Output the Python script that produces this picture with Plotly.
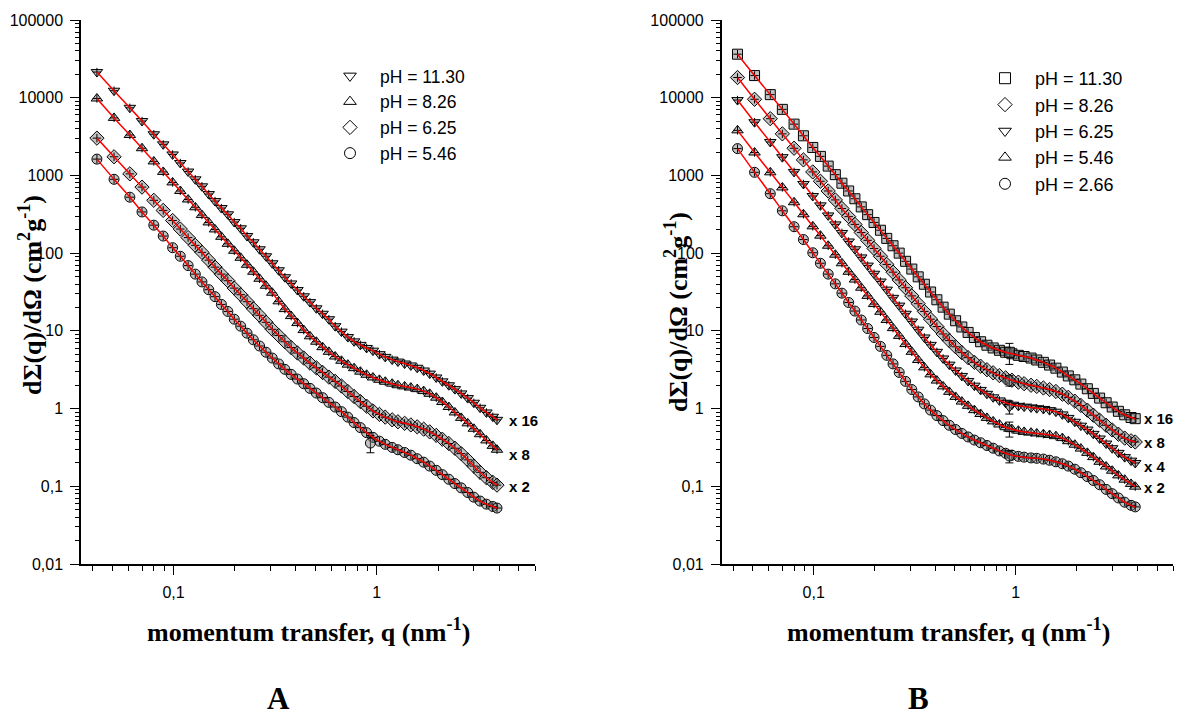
import plotly.graph_objects as go
import numpy as np

W, H = 1184, 718

# momentum transfer q (nm^-1) of the measured points (same grid in both panels)
q = [0.042, 0.051, 0.061, 0.070, 0.080, 0.089, 0.099, 0.108, 0.118, 0.128,
     0.138, 0.149, 0.160, 0.172, 0.185, 0.199, 0.214, 0.230, 0.247, 0.265,
     0.285, 0.306, 0.329, 0.353, 0.379, 0.407, 0.437, 0.469, 0.504, 0.541,
     0.581, 0.624, 0.670, 0.720, 0.773, 0.830, 0.891, 0.957, 1.03, 1.10,
     1.19, 1.27, 1.37, 1.47, 1.58, 1.70, 1.82, 1.96, 2.10, 2.26,
     2.42, 2.60, 2.80, 3.00, 3.22, 3.46, 3.72, 3.90]

# log10 of dSigma/dOmega (cm^2 g^-1), scale factor already applied
# panel A
a_ph1130 = [4.33, 4.09, 3.87, 3.70, 3.53, 3.40, 3.27, 3.16, 3.05, 2.95,
            2.86, 2.76, 2.67, 2.58, 2.50, 2.40, 2.32, 2.22, 2.14, 2.05,
            1.96, 1.87, 1.78, 1.69, 1.61, 1.525, 1.445, 1.37, 1.29, 1.22,
            1.15, 1.06, 0.99, 0.92, 0.865, 0.82, 0.78, 0.745, 0.70, 0.665,
            0.63, 0.605, 0.58, 0.555, 0.525, 0.49, 0.45, 0.40, 0.35, 0.30,
            0.25, 0.195, 0.135, 0.075, 0.01, -0.05, -0.105, -0.145]
a_ph826 = [3.99, 3.74, 3.52, 3.35, 3.18, 3.045, 2.91, 2.80, 2.69, 2.59,
           2.49, 2.395, 2.305, 2.21, 2.12, 2.03, 1.94, 1.85, 1.76, 1.67,
           1.58, 1.49, 1.38, 1.28, 1.19, 1.10, 1.01, 0.93, 0.86, 0.79,
           0.73, 0.67, 0.615, 0.565, 0.52, 0.475, 0.435, 0.40, 0.37, 0.345,
           0.32, 0.30, 0.285, 0.27, 0.25, 0.225, 0.19, 0.14, 0.085, 0.02,
           -0.05, -0.12, -0.19, -0.26, -0.33, -0.41, -0.48, -0.53]
a_ph625 = [3.48, 3.24, 3.02, 2.85, 2.68, 2.55, 2.42, 2.31, 2.20, 2.10,
           2.01, 1.91, 1.82, 1.73, 1.645, 1.55, 1.465, 1.375, 1.285, 1.20,
           1.11, 1.02, 0.94, 0.86, 0.785, 0.715, 0.65, 0.585, 0.525, 0.465,
           0.405, 0.35, 0.29, 0.22, 0.155, 0.09, 0.03, -0.03, -0.075, -0.11,
           -0.145, -0.17, -0.19, -0.21, -0.235, -0.265, -0.30, -0.345, -0.395, -0.45,
           -0.51, -0.58, -0.66, -0.74, -0.82, -0.89, -0.95, -0.985]
a_ph546 = [3.21, 2.95, 2.72, 2.53, 2.36, 2.22, 2.07, 1.96, 1.84, 1.73,
           1.63, 1.53, 1.44, 1.34, 1.25, 1.15, 1.06, 0.97, 0.885, 0.805,
           0.725, 0.65, 0.575, 0.505, 0.44, 0.38, 0.32, 0.26, 0.20, 0.14,
           0.08, 0.02, -0.04, -0.11, -0.18, -0.245, -0.31, -0.37, -0.42, -0.46,
           -0.50, -0.53, -0.565, -0.60, -0.645, -0.69, -0.74, -0.795, -0.85, -0.91,
           -0.965, -1.02, -1.08, -1.14, -1.19, -1.23, -1.26, -1.28]

# panel B
b_ph1130 = [4.56, 4.285, 4.04, 3.85, 3.66, 3.51, 3.36, 3.245, 3.12, 3.01,
            2.90, 2.80, 2.70, 2.595, 2.495, 2.395, 2.295, 2.19, 2.095, 2.00,
            1.895, 1.795, 1.695, 1.60, 1.50, 1.40, 1.305, 1.215, 1.13, 1.05,
            0.98, 0.915, 0.86, 0.815, 0.78, 0.75, 0.725, 0.705, 0.685, 0.67,
            0.65, 0.625, 0.595, 0.56, 0.52, 0.47, 0.42, 0.37, 0.315, 0.255,
            0.195, 0.135, 0.075, 0.02, -0.035, -0.08, -0.115, -0.13]
b_ph826 = [4.26, 3.98, 3.73, 3.535, 3.35, 3.20, 3.045, 2.925, 2.80, 2.685,
           2.575, 2.47, 2.37, 2.265, 2.165, 2.06, 1.96, 1.855, 1.755, 1.655,
           1.555, 1.45, 1.35, 1.25, 1.15, 1.055, 0.96, 0.875, 0.795, 0.72,
           0.655, 0.595, 0.545, 0.50, 0.46, 0.425, 0.395, 0.365, 0.34, 0.32,
           0.30, 0.285, 0.265, 0.245, 0.22, 0.185, 0.145, 0.095, 0.04, -0.02,
           -0.085, -0.15, -0.215, -0.275, -0.33, -0.38, -0.415, -0.43]
b_ph625 = [3.97, 3.685, 3.43, 3.235, 3.045, 2.89, 2.735, 2.615, 2.485, 2.37,
           2.26, 2.15, 2.05, 1.945, 1.84, 1.735, 1.635, 1.53, 1.425, 1.325,
           1.22, 1.12, 1.015, 0.915, 0.82, 0.73, 0.645, 0.565, 0.49, 0.42,
           0.355, 0.295, 0.24, 0.19, 0.145, 0.105, 0.075, 0.05, 0.035, 0.025,
           0.015, 0.005, -0.005, -0.02, -0.04, -0.075, -0.12, -0.17, -0.22, -0.27,
           -0.325, -0.385, -0.45, -0.51, -0.57, -0.625, -0.67, -0.70]
b_ph546 = [3.58, 3.295, 3.04, 2.845, 2.655, 2.50, 2.345, 2.225, 2.095, 1.98,
           1.87, 1.76, 1.66, 1.555, 1.45, 1.345, 1.245, 1.14, 1.035, 0.935,
           0.83, 0.73, 0.625, 0.53, 0.44, 0.36, 0.285, 0.215, 0.15, 0.09,
           0.035, -0.02, -0.07, -0.12, -0.165, -0.205, -0.24, -0.265, -0.285, -0.30,
           -0.31, -0.32, -0.33, -0.34, -0.355, -0.38, -0.42, -0.465, -0.515, -0.57,
           -0.625, -0.685, -0.745, -0.80, -0.86, -0.915, -0.97, -1.005]
b_ph266 = [3.345, 3.04, 2.765, 2.545, 2.34, 2.175, 2.005, 1.87, 1.73, 1.605,
           1.485, 1.365, 1.255, 1.14, 1.03, 0.915, 0.80, 0.685, 0.575, 0.465,
           0.35, 0.245, 0.15, 0.06, -0.02, -0.09, -0.155, -0.215, -0.27, -0.32,
           -0.365, -0.405, -0.44, -0.475, -0.51, -0.545, -0.575, -0.60, -0.615, -0.625,
           -0.635, -0.64, -0.65, -0.665, -0.685, -0.71, -0.74, -0.78, -0.825, -0.875,
           -0.925, -0.98, -1.04, -1.095, -1.15, -1.205, -1.245, -1.265]

# points with visible error bars near q ~ 0.93
err_a_I = [0.36]
err_a_d = [0.09]
err_b_I = [5.3, 2.3, 1.05, 0.55, 0.245]
err_b_d = [1.6, 0.35, 0.2, 0.12, 0.045]

labels_a = ["pH = 11.30", "pH = 8.26", "pH = 6.25", "pH = 5.46"]
labels_b = ["pH = 11.30", "pH = 8.26", "pH = 6.25", "pH = 5.46", "pH = 2.66"]
factors_a = ["x 16", "x 8", "x 2"]
factors_b = ["x 16", "x 8", "x 4", "x 2"]

series_a = [a_ph1130, a_ph826, a_ph625, a_ph546]
series_b = [b_ph1130, b_ph826, b_ph625, b_ph546, b_ph266]
symbols_a = ["triangle-down", "triangle-up", "diamond", "circle"]
symbols_b = ["square", "diamond", "triangle-down", "triangle-up", "circle"]


def px(x):
    return x / W


def py(y):
    return 1 - y / H


fig = go.Figure()
MFILL = "rgba(120,120,120,0.45)"


def add_markers(logI, symbol, xa, ya):
    I = np.power(10.0, logI)
    size = 11 if symbol == "diamond" else 10
    fig.add_trace(go.Scatter(
        x=q, y=I, mode="markers", xaxis=xa, yaxis=ya, showlegend=False,
        marker=dict(symbol=symbol, size=size, color=MFILL,
                    line=dict(color="black", width=1)),
        hoverinfo="skip"))
    fig.add_trace(go.Scatter(
        x=q, y=I, mode="markers", xaxis=xa, yaxis=ya, showlegend=False,
        marker=dict(symbol="cross-thin", size=6, line=dict(color="black", width=1)),
        hoverinfo="skip"))


def add_fit(logI, xa, ya):
    fig.add_trace(go.Scatter(
        x=q, y=np.power(10.0, logI), mode="lines", xaxis=xa, yaxis=ya,
        showlegend=False, line=dict(color="red", width=1.5, shape="spline", smoothing=0.8),
        hoverinfo="skip"))


for s, sym in zip(series_a, symbols_a):
    add_markers(s, sym, "x", "y")
for s, sym in zip(series_b, symbols_b):
    add_markers(s, sym, "x2", "y2")

# error bars
fig.add_trace(go.Scatter(
    x=[0.93], y=err_a_I, mode="markers", xaxis="x", yaxis="y", showlegend=False,
    marker=dict(symbol="circle", size=10, color=MFILL, line=dict(color="black", width=1)),
    error_y=dict(type="data", array=err_a_d, arrayminus=err_a_d, color="black", thickness=1, width=4)))
fig.add_trace(go.Scatter(
    x=[0.93] * len(err_b_I), y=err_b_I, mode="markers", xaxis="x2", yaxis="y2", showlegend=False,
    marker=dict(symbol=symbols_b, size=10, color=MFILL, line=dict(color="black", width=1)),
    error_y=dict(type="data", array=err_b_d, arrayminus=err_b_d, color="black", thickness=1, width=4)))

for s in series_a:
    add_fit(s, "x", "y")
for s in series_b:
    add_fit(s, "x2", "y2")

# legend entries (open symbols)
for lab, sym in zip(labels_a, symbols_a):
    fig.add_trace(go.Scatter(x=[None], y=[None], mode="markers", name=lab, legend="legend",
                             xaxis="x", yaxis="y",
                             marker=dict(symbol=sym + "-open", size=11, color="black", line=dict(width=1))))
for lab, sym in zip(labels_b, symbols_b):
    fig.add_trace(go.Scatter(x=[None], y=[None], mode="markers", name=lab, legend="legend2",
                             xaxis="x2", yaxis="y2",
                             marker=dict(symbol=sym + "-open", size=11, color="black", line=dict(width=1))))

tick_font = dict(family="Liberation Sans, Arial", size=16, color="black")
y_major = [0.01, 0.1, 1, 10, 100, 1000, 10000, 100000]
y_text = ["0,01", "0,1", "1", "10", "100", "1000", "10000", "100000"]
y_minor = [m * 10.0 ** e for e in range(-2, 5) for m in range(2, 10)]
x_minor = [m * 10.0 ** e for e in range(-2, 1) for m in range(2, 10)]


def xaxis(domain, anchor):
    return dict(type="log", domain=domain, anchor=anchor, range=[-1.455, 0.778], automargin=False,
                showline=True, linecolor="black", linewidth=1.5, showgrid=False, zeroline=False,
                tickmode="array", tickvals=[0.1, 1], ticktext=["0,1", "1"],
                ticks="outside", ticklen=9, tickwidth=1.3, tickcolor="black",
                ticklabelstandoff=4, tickfont=tick_font,
                minor=dict(tickmode="array", tickvals=x_minor, ticks="outside", ticklen=5,
                           tickwidth=1, tickcolor="black", showgrid=False))


def yaxis(domain, anchor):
    return dict(type="log", domain=domain, anchor=anchor, range=[-2, 5], automargin=False,
                showline=True, linecolor="black", linewidth=1.5, showgrid=False, zeroline=False,
                tickmode="array", tickvals=y_major, ticktext=y_text,
                ticks="outside", ticklen=9, tickwidth=1.3, tickcolor="black",
                ticklabelstandoff=4, tickfont=tick_font,
                minor=dict(tickmode="array", tickvals=y_minor, ticks="outside", ticklen=4,
                           tickwidth=1, tickcolor="black", showgrid=False))


ydom = [py(564), py(20)]
fig.update_layout(
    template="none",
    width=W, height=H, margin=dict(l=0, r=0, t=0, b=0, autoexpand=False),
    plot_bgcolor="white", paper_bgcolor="white",
    xaxis=xaxis([px(81), px(535)], "y"),
    yaxis=yaxis(ydom, "x"),
    xaxis2=xaxis([px(721.7), px(1173)], "y2"),
    yaxis2=yaxis(ydom, "x2"),
    legend=dict(x=px(320), y=py(58), xanchor="left", yanchor="top", bgcolor="rgba(0,0,0,0)",
                itemwidth=50, font=dict(family="Liberation Sans, Arial", size=17.5, color="black")),
    legend2=dict(x=px(975), y=py(60), xanchor="left", yanchor="top", bgcolor="rgba(0,0,0,0)",
                 itemwidth=50, font=dict(family="Liberation Sans, Arial", size=18, color="black")),
    hovermode=False,
)

title_font = dict(family="Liberation Serif, Times New Roman", size=26, color="black")
ytitle = "<b>dΣ(q)/dΩ (cm<sup>2</sup>g<sup>-1</sup>)</b>"
xtitle = "<b>momentum transfer, q (nm<sup>-1</sup>)</b>"
panel_font = dict(family="Liberation Serif", size=31, color="black")
ann = [
    dict(x=px(30), y=py(295), text=ytitle, textangle=-90, font=title_font),
    dict(x=px(676), y=py(312), text=ytitle, textangle=-90, font=title_font),
    dict(x=px(308), y=py(630), text=xtitle, font=title_font),
    dict(x=px(948), y=py(630), text=xtitle, font=title_font),
    dict(x=px(278), y=py(698), text="<b>A</b>", font=panel_font),
    dict(x=px(918), y=py(698), text="<b>B</b>", font=panel_font),
]
for a in ann:
    a.update(xanchor="center", yanchor="middle")
fac_font = dict(family="Liberation Sans, Arial", size=15, color="black")
for lab, yy in zip(factors_a, [420, 454, 486]):
    ann.append(dict(x=px(507), y=py(yy), text="<b>" + lab + "</b>", xanchor="left", yanchor="middle",
                    font=fac_font))
for lab, yy in zip(factors_b, [418, 442, 466, 488]):
    ann.append(dict(x=px(1142), y=py(yy), text="<b>" + lab + "</b>", xanchor="left", yanchor="middle",
                    font=fac_font))
for a in ann:
    a.update(xref="paper", yref="paper", showarrow=False)
fig.update_layout(annotations=ann)

# page body has a default 8px margin; remove it so the figure fills the window
fig.write_html("out.html", config={"displayModeBar": False},
               post_script="document.body.style.margin='0';")
